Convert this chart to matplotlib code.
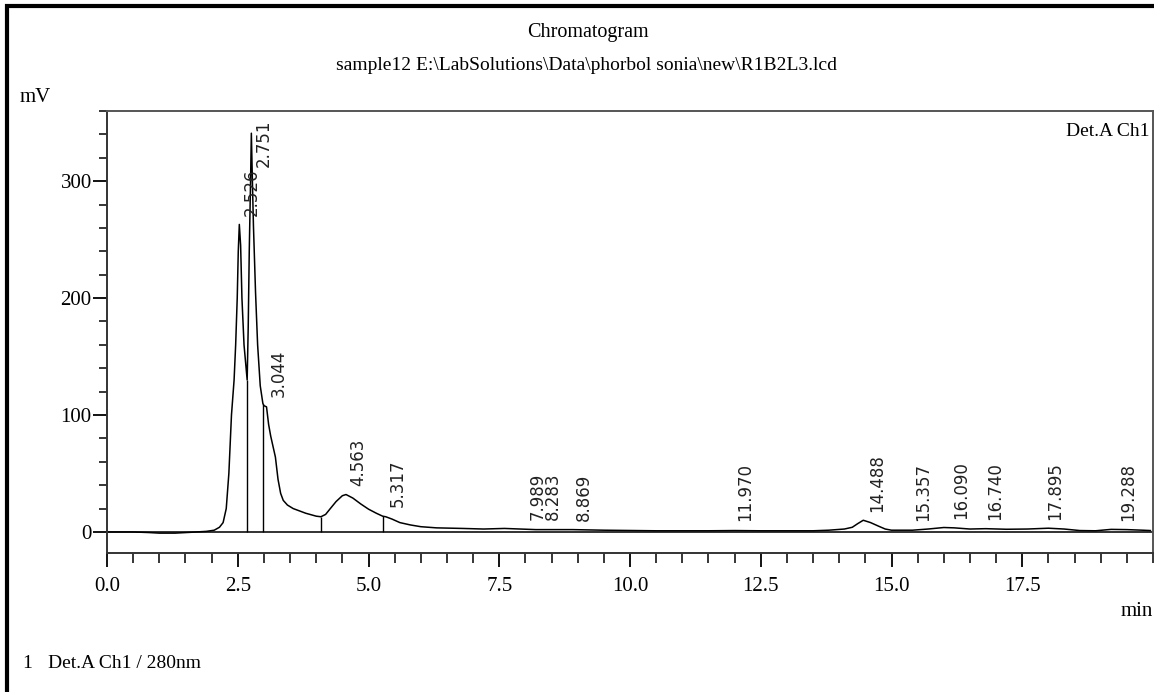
import matplotlib
matplotlib.use("Agg")
import matplotlib.pyplot as plt
from matplotlib.patches import Rectangle
from matplotlib.ticker import MultipleLocator, FixedLocator

# ---- data ----
time_min = [0.0, 0.5, 0.8, 1.0, 1.3, 1.6, 1.9, 2.05, 2.15, 2.22, 2.28, 2.33, 2.38,
            2.43, 2.46, 2.49, 2.51, 2.53, 2.555, 2.58, 2.62, 2.68, 2.70, 2.72, 2.745,
            2.76, 2.78, 2.80, 2.84, 2.88, 2.93, 2.98, 3.00, 3.05, 3.09, 3.13, 3.18,
            3.22, 3.27, 3.32, 3.37, 3.45, 3.56, 3.80, 4.00, 4.09, 4.18, 4.27, 4.38,
            4.50, 4.57, 4.70, 4.85, 5.00, 5.15, 5.27, 5.33, 5.45, 5.60, 5.80, 6.00,
            6.30, 6.80, 7.20, 7.60, 7.90, 8.20, 8.50, 8.90, 9.50, 10.5, 11.5, 12.0,
            12.5, 13.0, 13.5, 13.8, 14.1, 14.25, 14.35, 14.46, 14.60, 14.75, 14.88,
            15.0, 15.4, 15.7, 16.0, 16.2, 16.5, 16.8, 17.2, 17.6, 18.0, 18.3, 18.6,
            18.9, 19.2, 19.5, 19.8, 19.95]
signal_mv = [0.0, 0.0, -0.5, -1.0, -1.0, -0.3, 0.5, 1.5, 4.0, 8.0, 20.0, 50.0, 100.0,
             130.0, 160.0, 200.0, 240.0, 263.0, 245.0, 200.0, 160.0, 130.0, 175.0,
             240.0, 300.0, 341.0, 300.0, 262.0, 205.0, 160.0, 125.0, 110.0, 108.0,
             107.0, 92.0, 82.0, 72.0, 64.0, 45.0, 33.0, 27.0, 23.0, 20.0, 16.0, 13.5,
             13.0, 15.0, 20.0, 26.0, 31.0, 32.0, 29.0, 24.0, 19.5, 16.0, 13.5, 13.0,
             11.0, 8.0, 6.0, 4.5, 3.5, 3.0, 2.5, 3.0, 2.5, 2.0, 2.0, 2.0, 1.5, 1.0,
             1.0, 1.2, 1.0, 1.0, 1.0, 1.5, 2.5, 4.0, 7.0, 10.0, 8.0, 5.0, 2.5, 1.5,
             1.5, 2.5, 3.8, 3.5, 2.5, 2.8, 2.3, 2.5, 3.2, 2.5, 1.2, 1.0, 2.2, 2.0,
             1.5, 1.2]

peak_times = [2.526, 2.751, 3.044, 4.563, 5.317, 7.989, 8.283, 8.869, 11.970,
              14.488, 15.357, 16.090, 16.740, 17.895, 19.288]
peak_heights = [263, 341, 108, 32, 14, 3, 3, 2.5, 2, 10, 2.5, 4, 3, 3, 2.5]

drop_times = [2.68, 2.98, 4.09, 5.27]
drop_heights = [130, 109, 13, 13.5]

x_ticks = [0.0, 2.5, 5.0, 7.5, 10.0, 12.5, 15.0, 17.5]
y_ticks = [0, 100, 200, 300]

title = "Chromatogram"
subtitle = "sample12 E:\\LabSolutions\\Data\\phorbol sonia\\new\\R1B2L3.lcd"

# ---- figure ----
W, H = 1154, 692
fig = plt.figure(figsize=(W / 100, H / 100), dpi=100)
fig.patch.set_facecolor("white")
serif = ["Liberation Serif", "DejaVu Serif"]

ax = fig.add_axes([107 / W, 1 - 553 / H, (1153 - 107) / W, (553 - 111) / H])
ax.set_xlim(0, 20)
ax.set_ylim(-18, 360)

ax.plot(time_min, signal_mv, color="black", lw=1.1)
ax.axhline(0, color="#222222", lw=1.3, zorder=1)
ax.vlines(drop_times, 0, drop_heights, color="black", lw=1.0)

label_cap = 312
for t, h in zip(peak_times, peak_heights):
    ax.text(t + 0.24, min(h + 7, label_cap), f"{t:.3f}", rotation=90,
            ha="center", va="bottom", fontsize=12, family="DejaVu Sans",
            color="#222222")

for s in ax.spines.values():
    s.set_color("#555555")
    s.set_linewidth(1.4)
ax.spines["bottom"].set_color("#333333")
ax.spines["left"].set_color("#333333")

ax.xaxis.set_major_locator(FixedLocator(x_ticks))
ax.xaxis.set_minor_locator(MultipleLocator(0.5))
ax.yaxis.set_major_locator(FixedLocator(y_ticks))
ax.yaxis.set_minor_locator(MultipleLocator(20))
ax.set_xticklabels([f"{v:.1f}" for v in x_ticks])
ax.set_yticklabels([str(v) for v in y_ticks])
ax.tick_params(axis="x", which="major", direction="out", length=10, width=1.3,
               pad=7, labelsize=15)
ax.tick_params(axis="x", which="minor", direction="out", length=7, width=1.1)
ax.tick_params(axis="y", which="major", direction="out", length=10, width=1.3,
               pad=1, labelsize=15)
ax.tick_params(axis="y", which="minor", direction="out", length=6, width=1.1)
for lab in ax.get_xticklabels() + ax.get_yticklabels():
    lab.set_family(serif)

# ---- texts ----
fig.text(588 / W, 1 - 32 / H, title, ha="center", va="center",
         fontsize=14.5, family=serif)
fig.text(586 / W, 1 - 65 / H, subtitle, ha="center", va="center",
         fontsize=14, family=serif)
fig.text(20 / W, 1 - 98 / H, "mV", ha="left", va="center", fontsize=15, family=serif)
fig.text(1150 / W, 1 - 132 / H, "Det.A Ch1", ha="right", va="center",
         fontsize=14, family=serif)
fig.text(1153 / W, 1 - 612 / H, "min", ha="right", va="center",
         fontsize=15, family=serif)
fig.text(22 / W, 1 - 664 / H, "1", ha="left", va="center", fontsize=14, family=serif)
fig.text(48 / W, 1 - 664 / H, "Det.A Ch1 / 280nm", ha="left", va="center",
         fontsize=14, family=serif)

# outer frame
fig.patches.append(Rectangle((7 / W, -0.05), 1.2, 1 - 6 / H + 0.05,
                             transform=fig.transFigure, fill=False,
                             edgecolor="black", lw=3))

fig.savefig("out.png", dpi=100, facecolor="white")
